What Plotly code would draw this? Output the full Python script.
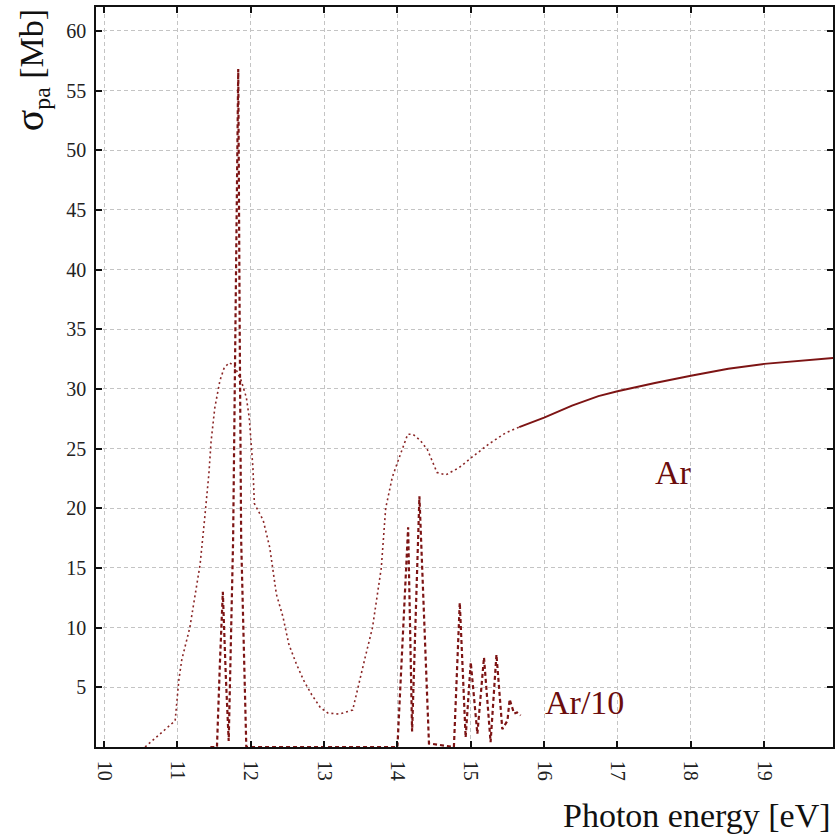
import plotly.graph_objects as go

# Ar photoabsorption cross-section (dotted part, Mb)
ar_dot_x = [10.56, 10.97, 11.02, 11.06, 11.17, 11.24, 11.31, 11.37, 11.43, 11.46, 11.51, 11.58,
            11.64, 11.71, 11.78, 11.87, 11.94, 11.98, 12.03, 12.05, 12.17, 12.26, 12.35, 12.44,
            12.52, 12.62, 12.72, 12.83, 12.95, 13.05, 13.21, 13.39, 13.46, 13.56, 13.66, 13.78,
            13.84, 13.93, 14.01, 14.14, 14.21, 14.31, 14.41, 14.54, 14.66, 14.84, 15.02, 15.16,
            15.25, 15.47, 15.66]
ar_dot_y = [0.0, 2.2, 5.6, 7.3, 10.0, 12.8, 15.3, 19.0, 22.9, 25.6, 28.4, 30.7,
            31.8, 32.2, 31.9, 30.7, 29.3, 27.6, 23.4, 20.4, 19.0, 16.7, 12.8, 10.9,
            8.6, 7.0, 5.6, 4.4, 3.3, 2.85, 2.75, 3.1, 5.0, 7.5, 10.0, 15.0,
            20.0, 22.6, 24.0, 26.2, 26.2, 25.7, 24.9, 23.0, 22.8, 23.4, 24.3, 25.0,
            25.4, 26.3, 26.8]

# Ar (solid part)
ar_sol_x = [15.66, 16.0, 16.38, 16.74, 17.0, 17.51, 18.0, 18.51, 19.0, 19.55, 19.94]
ar_sol_y = [26.8, 27.6, 28.6, 29.4, 29.8, 30.5, 31.1, 31.7, 32.1, 32.4, 32.6]

# Ar/10 resonance structure (dashed)
ar10_x = [11.45, 11.54, 11.58, 11.62, 11.66, 11.70, 11.76, 11.80, 11.83, 11.85, 11.87, 11.94,
          14.0, 14.146, 14.20, 14.30, 14.43, 14.77, 14.85, 14.93, 15.0, 15.09, 15.18, 15.27,
          15.35, 15.43, 15.50, 15.53, 15.59, 15.63, 15.68]
ar10_y = [0.0, 0.0, 7.0, 13.0, 6.0, 0.5, 17.3, 40.0, 56.8, 35.0, 17.3, 0.0,
          0.0, 18.4, 1.3, 21.0, 0.3, 0.0, 12.1, 0.8, 7.1, 1.1, 7.5, 0.4,
          7.75, 1.5, 2.2, 4.0, 2.8, 2.9, 2.65]

x_ticks = [10, 11, 12, 13, 14, 15, 16, 17, 18, 19]
y_ticks = [5, 10, 15, 20, 25, 30, 35, 40, 45, 50, 55, 60]

line_col = "#7d1414"
dot_col = "#8a2626"
text_col = "#6b0d0d"
serif = "Liberation Serif, Times New Roman, serif"

fig = go.Figure()
fig.add_trace(go.Scatter(x=ar_dot_x, y=ar_dot_y, mode="lines",
                         line=dict(color=dot_col, width=1.6, dash="2px,3px"),
                         showlegend=False))
fig.add_trace(go.Scatter(x=ar_sol_x, y=ar_sol_y, mode="lines",
                         line=dict(color=line_col, width=2),
                         showlegend=False))
fig.add_trace(go.Scatter(x=ar10_x, y=ar10_y, mode="lines",
                         line=dict(color=line_col, width=2.2, dash="4px,3px"),
                         showlegend=False))

axis_common = dict(showline=True, linecolor="#111", linewidth=1.5, mirror="ticks",
                   ticks="inside", ticklen=6, tickcolor="#111", tickwidth=1.5,
                   showgrid=True, gridcolor="#c4c4c4", gridwidth=1, griddash="4px,3px",
                   zeroline=False, tickfont=dict(family=serif, size=20, color="#222"))

fig.update_xaxes(range=[9.891, 19.938], tickvals=x_ticks, tickangle=90,
                 ticklabelstandoff=8, **axis_common)
fig.update_yaxes(range=[0, 62.0], tickvals=y_ticks, ticklabelstandoff=4, **axis_common)

fig.add_annotation(x=17.76, y=23.0, xref="x", yref="y", text="Ar", showarrow=False,
                   font=dict(family=serif, size=34, color=text_col))
fig.add_annotation(x=16.55, y=3.7, xref="x", yref="y", text="Ar/10", showarrow=False,
                   font=dict(family=serif, size=34, color=text_col))
fig.add_annotation(x=-0.089, y=0.915, xref="paper", yref="paper",
                   text="<span style='font-size:40px'>σ</span><sub>pa</sub> [Mb]",
                   textangle=-90, showarrow=False,
                   xanchor="center", yanchor="middle",
                   font=dict(family=serif, size=34, color="#111"))
fig.add_annotation(x=1.0, y=-0.092, xref="paper", yref="paper",
                   text="Photon energy [eV]", showarrow=False,
                   xanchor="right", yanchor="middle",
                   font=dict(family=serif, size=34, color="#111"))

fig.update_layout(width=840, height=834, margin=dict(l=96, r=5, t=5, b=87),
                  plot_bgcolor="white", paper_bgcolor="white")

fig.write_html("out.html")
